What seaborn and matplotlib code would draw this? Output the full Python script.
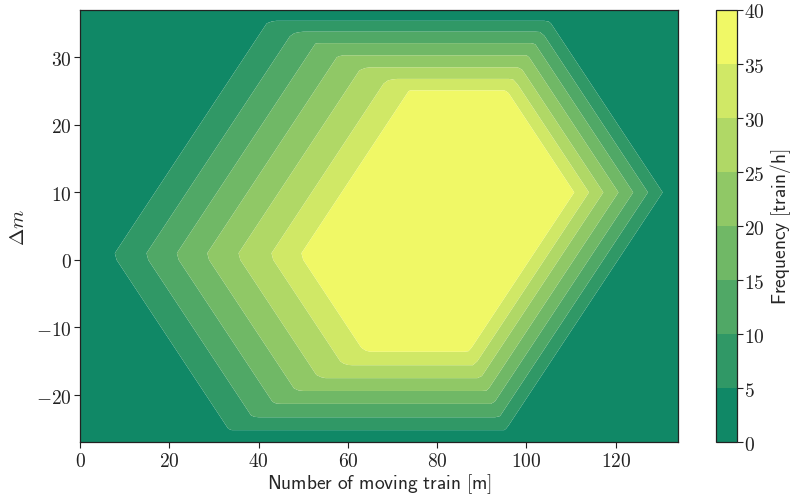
import numpy as np
import matplotlib
matplotlib.use("Agg")
import matplotlib.pyplot as plt
from matplotlib.ticker import FuncFormatter, MultipleLocator
import seaborn as sns

# ---- data ----
levels = [0, 5, 10, 15, 20, 25, 30, 35, 40]
edge_levels = [5, 10, 15, 20, 25, 30, 35]          # contour boundaries
top_y = [35.4, 33.8, 32.1, 30.3, 28.5, 26.8, 25.1]  # flat top edge (Δm)
bottom_y = [-25.2, -23.3, -21.3, -19.4, -17.5, -15.6, -13.6]
left_x = [7.5, 14.6, 21.4, 28.2, 35.2, 42.6, 49.3]  # left vertex (m)
right_x = [130.5, 127.2, 123.9, 120.6, 117.2, 114.0, 110.7]
left_vertex_dm = 0.7
right_vertex_dm = 10.0
m_values = np.arange(0, 135, 1)
dm_values = np.arange(-27, 38, 1)
cbar_ticks = [0, 5, 10, 15, 20, 25, 30, 35, 40]

# ---- build the field from the boundary positions ----
M, D = np.meshgrid(m_values, dm_values)
lev = np.array(edge_levels, float)


def ramp(coord, edges, increasing):
    e = np.asarray(edges, float)
    s = 1.0 if increasing else -1.0
    e = s * e
    xp = np.concatenate([[e[0] - (e[1] - e[0])], e, [e[-1] + (e[-1] - e[-2])]])
    fp = np.concatenate([[0.0], lev, [40.0]])
    return np.interp(s * coord, xp, fp)


lx = np.array(left_x)
rx = np.array(right_x)
Z = np.minimum.reduce([
    ramp(D, top_y, False),
    ramp(D, bottom_y, True),
    ramp(M - D, lx - left_vertex_dm, True),
    ramp(M + D, lx + left_vertex_dm, True),
    ramp(M + D, rx + right_vertex_dm, False),
    ramp(M - D, rx - right_vertex_dm, False),
])
Z = np.clip(Z, 0.1, 39.9)

# ---- style ----
sns.set_style("ticks")
plt.rcParams.update({
    "mathtext.fontset": "cm",
    "axes.edgecolor": "#222222",
    "axes.linewidth": 0.9,
    "xtick.color": "#222222",
    "ytick.color": "#222222",
    "xtick.direction": "out",
    "ytick.direction": "out",
    "xtick.major.size": 4,
    "ytick.major.size": 4,
    "xtick.major.width": 0.8,
    "ytick.major.width": 0.8,
})

cmap = sns.color_palette("summer", as_cmap=True)

fig = plt.figure(figsize=(7.92, 5.02), dpi=100)
W, H = 792, 502
left, right, top, bottom = 80, 678.3, 11, 443.3
ax = fig.add_axes([left / W, 1 - bottom / H, (right - left) / W, (bottom - top) / H])
cax = fig.add_axes([715.7 / W, 1 - bottom / H, 21 / W, (bottom - top) / H])

cs = ax.contourf(M, D, Z, levels=levels, cmap=cmap, antialiased=True)
ax.set_xlim(m_values[0], m_values[-1])
ax.set_ylim(dm_values[0], dm_values[-1])
for s in ax.spines.values():
    s.set_visible(True)

mathfmt = FuncFormatter(lambda v, p: f"${v:g}$")
ax.xaxis.set_major_locator(MultipleLocator(20))
ax.yaxis.set_major_locator(MultipleLocator(10))
ax.xaxis.set_major_formatter(mathfmt)
ax.yaxis.set_major_formatter(mathfmt)
ax.tick_params(labelsize=14, pad=2)
ax.set_xlabel(r"$\mathsf{Number\ of\ moving\ train\ [m]}$", fontsize=14, labelpad=1)
ax.set_ylabel(r"$\Delta m$", fontsize=15, labelpad=6)

cb = fig.colorbar(cs, cax=cax, ticks=cbar_ticks)
cb.ax.yaxis.set_major_formatter(mathfmt)
cb.ax.tick_params(labelsize=14, length=4, width=0.8, pad=1)
cb.outline.set_linewidth(0.9)
cb.set_label(r"$\mathsf{Frequency\ [train/h]}$", fontsize=14, labelpad=3)

fig.savefig("out.png", dpi=100)
